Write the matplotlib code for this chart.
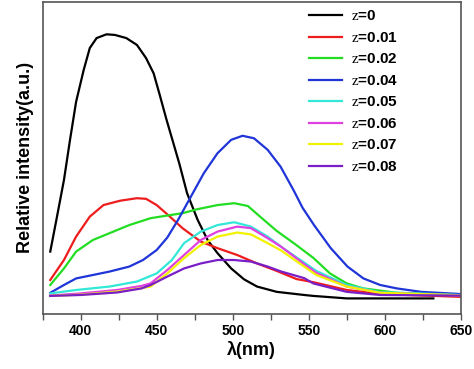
#!/usr/bin/env python3
"""PL emission spectra for different z."""
import matplotlib.pyplot as plt
from matplotlib.ticker import MultipleLocator

plt.rcParams["font.family"] = ["Liberation Sans", "DejaVu Sans"]
plt.rcParams["mathtext.fontset"] = "custom"
plt.rcParams["mathtext.rm"] = "Liberation Serif"

# wavelengths (nm) and intensities (a.u.)
wl_z0 = [380, 384, 389, 393, 397, 402, 406, 410.5, 417, 422.5, 430, 437,
         443, 448, 452, 456.5, 461, 465, 470, 477, 483.5, 490, 499, 507.5,
         516, 529, 547, 553, 575, 619, 632]
z0 = [20.0, 30.1, 42.9, 55.8, 68.0, 78.2, 85.2, 88.4, 89.6, 89.4, 88.4,
      86.2, 82.0, 77.1, 70.2, 62.2, 54.7, 48.0, 38.7, 30.1, 23.7, 19.5,
      14.6, 11.1, 8.8, 7.1, 6.1, 5.8, 5.0, 5.0, 5.0]

wl_z01 = [380, 389, 397, 406, 415, 426, 437, 443, 450, 458, 467, 479, 490,
          503, 516, 529, 542, 553, 575, 597, 650]
z01 = [10.9, 17.3, 24.8, 31.2, 34.9, 36.3, 37.1, 36.9, 34.9, 31.5, 27.5,
       23.2, 21.1, 18.9, 16.2, 13.8, 11.2, 10.2, 7.7, 6.4, 5.5]

wl_z02 = [380, 389, 397, 408, 419, 432, 446, 459, 467, 477, 490, 501,
          510, 518, 529, 541, 553, 564, 575, 586, 608, 650]
z02 = [9.3, 14.6, 20.0, 23.7, 25.9, 28.5, 30.7, 31.7, 32.3, 33.6, 34.9,
       35.5, 34.6, 31.2, 26.6, 22.4, 18.0, 13.0, 9.8, 8.2, 6.8, 6.1]

wl_z04 = [380, 389, 397, 408, 419, 432, 441, 450, 457, 464, 472.5, 481,
          490, 499, 506.5, 514, 523, 531.5, 540, 546, 553.5, 564.5, 575.5,
          586, 597, 608, 624, 650]
z04 = [6.8, 9.3, 11.4, 12.5, 13.6, 15.2, 17.3, 20.5, 24.5, 30.1, 37.6,
       45.1, 51.5, 55.8, 57.1, 56.3, 52.6, 47.2, 39.7, 34.0, 28.5, 21.1,
       15.2, 11.4, 9.3, 8.2, 7.1, 6.4]

wl_z05 = [380, 397, 419, 437, 450, 460, 468, 479, 490, 501, 512, 523, 534,
          547, 555, 575, 597, 650]
z05 = [6.6, 7.7, 8.8, 10.4, 13.0, 17.3, 22.7, 26.4, 28.5, 29.4, 28.0, 24.8,
       20.8, 16.5, 13.8, 9.3, 7.0, 6.1]

wl_z06 = [380, 400, 424, 440, 446, 457, 468, 479, 490, 503, 512, 523, 532,
          547, 555, 575, 597, 650]
z06 = [5.9, 6.6, 7.7, 9.0, 9.8, 14.1, 18.9, 23.7, 26.4, 28.0, 27.5, 24.3,
       21.5, 16.0, 13.2, 8.8, 6.8, 5.9]

wl_z07 = [380, 400, 424, 440, 446, 457, 468, 479, 490, 503, 512, 523, 532,
          547, 555, 575, 597, 650]
z07 = [5.8, 6.2, 7.2, 8.3, 8.8, 13.0, 17.9, 22.1, 24.8, 26.1, 25.5, 22.7,
       20.3, 15.2, 12.5, 8.8, 6.8, 6.0]

wl_z08 = [380, 400, 424, 440, 446, 457, 468, 479, 490, 501, 512, 523, 532,
          547, 553, 575, 597, 650]
z08 = [5.8, 6.1, 6.9, 8.2, 9.3, 12.0, 14.6, 16.2, 17.3, 17.3, 16.8, 15.2,
       13.6, 11.5, 9.8, 7.1, 6.1, 5.9]

labels = ["0", "0.01", "0.02", "0.04", "0.05", "0.06", "0.07", "0.08"]
colors = ["#000000", "#ee1c1c", "#22dd22", "#1f35d8", "#33e8d8",
          "#e040e0", "#f2f200", "#7a1fc8"]
series = [(wl_z0, z0), (wl_z01, z01), (wl_z02, z02), (wl_z04, z04),
          (wl_z05, z05), (wl_z06, z06), (wl_z07, z07), (wl_z08, z08)]

fig = plt.figure(figsize=(4.74, 3.69), dpi=100)
ax = fig.add_axes([0.090, 0.149, 0.882, 0.846])
for (wl, y), lab, c in zip(series, labels, colors):
    ax.plot(wl, y, color=c, linewidth=1.6, label=r"$\mathrm{z}$=" + lab)

ax.set_xlim(375, 650)
ax.set_ylim(0, 100)
ax.xaxis.set_major_locator(MultipleLocator(50))
ax.xaxis.set_minor_locator(MultipleLocator(25))
ax.set_yticks([])
ax.tick_params(axis="x", which="both", direction="out", length=4,
               width=1, color="#555555", labelsize=10)
for lbl in ax.get_xticklabels():
    lbl.set_fontweight("bold")
for sp in ax.spines.values():
    sp.set_color("#555555")
    sp.set_linewidth(1.2)

ax.set_xlabel("λ(nm)", fontsize=13, fontweight="bold", labelpad=2)
ax.set_ylabel("Relative intensity(a.u.)", fontsize=13, fontweight="bold",
              labelpad=6)

leg = ax.legend(loc="upper right", frameon=False, handlelength=2.2,
                handletextpad=0.6, labelspacing=0.49, borderaxespad=0.1,
                prop={"size": 11, "weight": "bold"},
                bbox_to_anchor=(0.87, 1.0))

plt.savefig("out.png", dpi=100)
